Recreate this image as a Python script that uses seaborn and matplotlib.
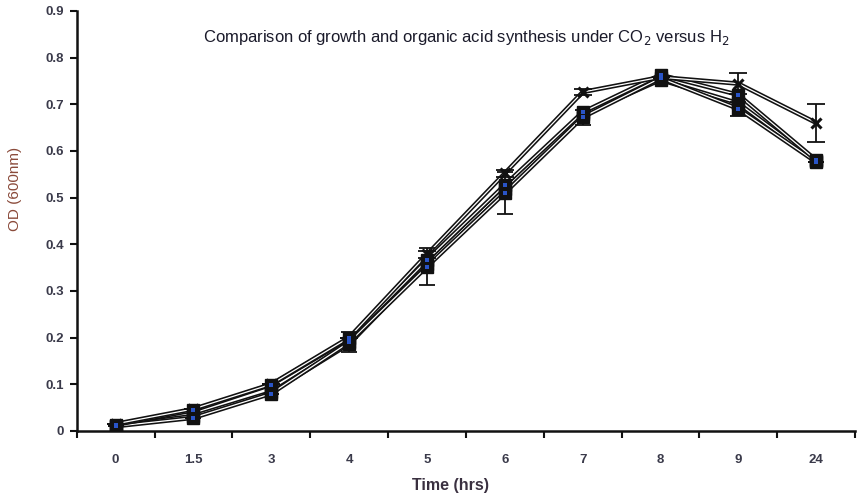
import numpy as np
import pandas as pd
import matplotlib
matplotlib.use("Agg")
import matplotlib.pyplot as plt
import matplotlib.patheffects as pe
import seaborn as sns

categories = ["0", "1.5", "3", "4", "5", "6", "7", "8", "9", "24"]
series_a = [0.015, 0.047, 0.100, 0.200, 0.378, 0.552, 0.726, 0.758, 0.744, 0.660]
series_b = [0.013, 0.044, 0.099, 0.198, 0.366, 0.527, 0.683, 0.763, 0.720, 0.580]
series_c = [0.010, 0.028, 0.080, 0.190, 0.352, 0.510, 0.672, 0.756, 0.690, 0.576]
series_d = [0.011, 0.032, 0.083, 0.186, 0.358, 0.518, 0.678, 0.752, 0.702, 0.578]
err_a = [0.0, 0.0, 0.0, 0.0, 0.008, 0.008, 0.006, 0.0, 0.022, 0.040]
err_c = [0.0, 0.0, 0.0, 0.022, 0.040, 0.045, 0.016, 0.0, 0.015, 0.0]

sns.set_theme(style="white")
plt.rcParams["font.family"] = ["Liberation Sans", "DejaVu Sans"]

fig = plt.figure(figsize=(8.62, 4.93), dpi=100)
ax = fig.add_axes([0.089, 0.126, 0.903, 0.852])

pos = np.arange(len(categories))
series = {
    "A": (series_a, "x", None),
    "B": (series_b, "s", "#2a55c8"),
    "C": (series_c, "s", "#2a55c8"),
    "D": (series_d, "s", None),
}
order = ["D", "C", "B", "A"]
for name in order:
    vals, mk, inner = series[name]
    df = pd.DataFrame({"x": pos, "y": vals})
    sns.lineplot(data=df, x="x", y="y", ax=ax, color="white", linewidth=0.9,
                 sort=False, estimator=None, zorder=3,
                 path_effects=[pe.Stroke(linewidth=3.2, foreground="#111111"), pe.Normal()])
    if mk == "x":
        ax.plot(pos, vals, linestyle="none", marker="x", markersize=6.5,
                markeredgewidth=2.2, color="#111111", zorder=5)
    else:
        ax.plot(pos, vals, linestyle="none", marker="s", markersize=8,
                markerfacecolor="#111111", markeredgecolor="#111111",
                markeredgewidth=1.0, zorder=5)
        if inner:
            ax.plot(pos, vals, linestyle="none", marker="s", markersize=3.2,
                    markerfacecolor=inner, markeredgewidth=0, zorder=6)

ax.errorbar(pos, series_a, yerr=err_a, fmt="none", ecolor="#111111",
            elinewidth=1.3, capsize=6.5, capthick=1.3, zorder=4)
ax.errorbar(pos, series_c, yerr=err_c, fmt="none", ecolor="#111111",
            elinewidth=1.3, capsize=6, capthick=1.3, zorder=4)

ax.set_xlim(-0.5, len(categories) - 0.5)
ax.set_ylim(0, 0.9)
ax.set_yticks(np.arange(0, 0.91, 0.1))
ax.set_yticklabels(["0"] + [f"{v:.1f}" for v in np.arange(0.1, 0.91, 0.1)])
ax.set_xticks(np.arange(-0.5, len(categories), 1.0))
ax.set_xticklabels([])
ax.set_xticks(pos, minor=True)
ax.set_xticklabels(categories, minor=True)

tick_color = "#3a3a4a"
ax.tick_params(axis="x", which="major", direction="out", length=5, width=1.5,
               color="#111111", bottom=True)
ax.tick_params(axis="x", which="minor", length=0, pad=17, labelsize=9.5,
               labelcolor=tick_color)
ax.tick_params(axis="y", direction="out", length=5, width=1.5, color="#111111",
               left=True, labelsize=9.5, labelcolor=tick_color, pad=4)
for lbl in ax.get_xticklabels(minor=True) + ax.get_yticklabels():
    lbl.set_fontweight("bold")

for s in ["top", "right"]:
    ax.spines[s].set_visible(False)
for s in ["left", "bottom"]:
    ax.spines[s].set_color("#111111")
    ax.spines[s].set_linewidth(1.8)

ax.set_xlabel("Time (hrs)", fontsize=11.5, fontweight="bold", color="#3a3040", labelpad=5)
ax.xaxis.set_label_coords(0.48, -0.112)
ax.set_ylabel("OD (600nm)", fontsize=11, color="#8a4a3a")
ax.yaxis.set_label_coords(-0.07, 0.575)
ax.text(0.5, 0.937, "Comparison of growth and organic acid synthesis under CO$_2$ versus H$_2$",
        transform=ax.transAxes, ha="center", va="center", fontsize=12,
        color="#1a1a2a")

fig.savefig("out.png", dpi=100)
